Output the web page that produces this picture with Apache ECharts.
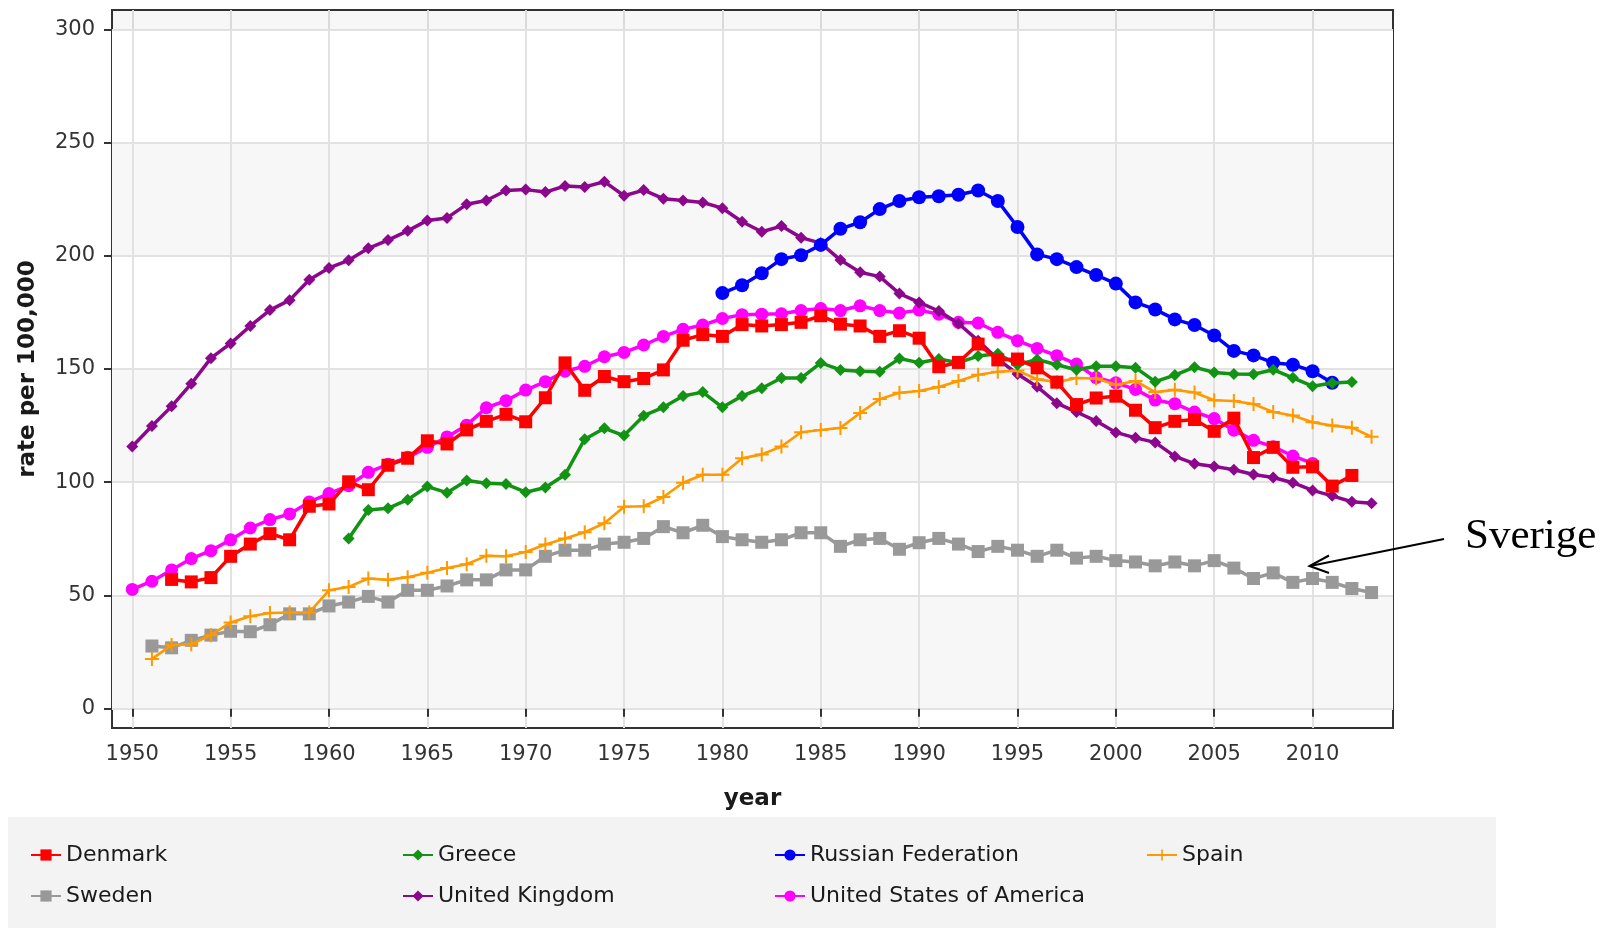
<!DOCTYPE html>
<html>
<head>
<meta charset="utf-8">
<title>rate per 100,000</title>
<script src="https://cdn.jsdelivr.net/npm/echarts@6/dist/echarts.min.js"></script>
<style>
  html, body { margin: 0; padding: 0; background: #fff; }
  #chart { width: 1607px; height: 928px; }
</style>
</head>
<body>
<div id="chart"></div>
<script>
// tick values on both axes
const xTicks = [1950, 1955, 1960, 1965, 1970, 1975, 1980, 1985, 1990, 1995, 2000, 2005, 2010];
const yTicks = [0, 50, 100, 150, 200, 250, 300];

// series values, one per year from the start year
const denmarkStart = 1952;
const denmark = [
  57.1, 56.0, 57.9, 67.3, 72.7, 77.3, 74.6, 89.4, 90.4,
  100.2, 96.7, 107.5, 110.6, 118.3, 116.9, 123.1, 126.9, 130.0, 126.7,
  137.3, 152.7, 140.6, 146.7, 144.4, 145.8, 149.6, 162.7, 165.2, 164.4,
  169.6, 169.0, 169.6, 170.6, 173.5, 169.8, 169.0, 164.4, 166.9, 163.6,
  151.0, 152.9, 161.0, 154.0, 154.4, 150.5, 144.2, 134.3, 137.2, 138.0,
  131.8, 124.1, 126.9, 127.7, 122.5, 128.3, 110.9, 115.4, 106.6, 106.8,
  98.3, 103.0
];

const greeceStart = 1961;
const greece = [
  75.2, 87.7, 88.5, 92.3, 98.1, 95.4, 100.8, 99.6, 99.2, 95.6,
  97.7, 103.3, 119.0, 123.8, 120.6, 129.4, 133.1, 138.1, 139.8, 133.1,
  138.1, 141.5, 146.0, 146.0, 152.7, 149.6, 149.0, 148.8, 154.6, 152.8,
  154.4, 152.8, 155.7, 156.7, 151.9, 154.2, 151.9, 149.7, 151.2, 151.2,
  150.6, 144.4, 147.3, 150.8, 148.5, 147.8, 147.7, 149.7, 146.1, 142.4,
  143.8, 144.3
];

const russiaStart = 1980;
const russia = [
  183.5, 187.0, 192.3, 198.5, 200.2, 204.8, 211.9, 214.8, 220.6, 224.2,
  225.8, 226.3, 226.9, 228.8, 224.2, 212.7, 200.6, 198.5, 195.0, 191.5,
  187.7, 179.4, 176.3, 171.9, 169.4, 164.8, 158.0, 156.0, 152.8, 151.9,
  149.0, 143.9
];

const spainStart = 1951;
const spain = [
  22.0, 28.1, 28.5, 32.5, 38.1, 40.8, 42.3, 42.5, 42.5, 52.3,
  53.8, 57.5, 56.9, 58.1, 60.0, 62.1, 63.8, 67.5, 67.3, 69.2,
  72.5, 75.2, 77.9, 81.9, 89.2, 89.4, 93.5, 99.8, 103.3, 103.3,
  110.6, 112.3, 115.8, 122.1, 123.1, 124.0, 130.6, 136.7, 139.5, 140.3,
  142.1, 144.7, 147.5, 148.8, 149.3, 145.5, 144.2, 146.0, 145.8, 143.0,
  144.7, 139.8, 140.8, 139.6, 136.2, 135.9, 134.5, 131.0, 129.5, 126.5,
  125.0, 124.1, 120.1
];

const swedenStart = 1951;
const sweden = [
  27.7, 26.9, 30.2, 32.5, 34.2, 34.0, 37.1, 41.9, 41.9, 45.4,
  47.1, 49.6, 47.1, 52.3, 52.3, 54.2, 56.9, 56.9, 61.3, 61.3,
  67.3, 70.0, 70.0, 72.7, 73.5, 75.2, 80.4, 77.7, 81.0, 76.0,
  74.6, 73.5, 74.6, 77.7, 77.7, 71.7, 74.6, 75.2, 70.4, 73.3,
  75.2, 72.7, 69.4, 71.7, 70.0, 67.3, 70.0, 66.5, 67.3, 65.4,
  64.8, 63.1, 64.8, 63.1, 65.4, 62.1, 57.5, 60.0, 55.8, 57.5,
  55.8, 53.1, 51.3
];

const ukStart = 1950;
const uk = [
  115.8, 124.8, 133.5, 143.5, 154.8, 161.3, 169.0, 176.0, 180.4, 189.4,
  194.6, 198.0, 203.3, 206.9, 211.0, 215.6, 216.7, 222.7, 224.4, 228.8,
  229.2, 228.1, 230.8, 230.4, 232.7, 226.5, 229.0, 225.2, 224.4, 223.5,
  221.0, 215.0, 210.6, 213.1, 208.0, 205.6, 198.1, 192.7, 190.8, 183.3,
  179.4, 175.6, 170.1, 162.5, 154.4, 147.8, 142.2, 134.9, 131.0, 127.0,
  122.0, 119.6, 117.6, 111.4, 108.2, 107.0, 105.5, 103.4, 102.1, 99.8,
  96.4, 94.0, 91.4, 90.7
];

const usaStart = 1950;
const usa = [
  52.7, 56.3, 61.3, 66.3, 69.8, 74.6, 79.8, 83.5, 86.0, 91.3,
  95.0, 98.5, 104.4, 107.9, 111.0, 115.4, 120.0, 125.2, 132.9, 136.0,
  140.7, 144.4, 149.0, 151.2, 155.4, 157.3, 160.6, 164.4, 167.5, 169.4,
  172.3, 174.0, 174.2, 174.4, 175.8, 176.7, 175.8, 177.9, 175.8, 174.7,
  176.0, 174.2, 170.6, 170.3, 166.2, 162.5, 159.1, 155.9, 152.2, 146.2,
  143.9, 141.0, 136.3, 134.7, 131.0, 128.1, 123.0, 118.5, 115.7, 111.6,
  108.3
];

// 年份 + 数值 -> [x, y]
function toPairs(start, values) {
  return values.map((v, i) => [start + i, v]);
}

const plusIcon = 'path://M6,0h2v6h6v2h-6v6h-2v-6h-6v-2h6z';
const FONT = 'DejaVu Sans';

const seriesDefs = [
  { name: 'Denmark', data: toPairs(denmarkStart, denmark), color: '#ff0000', symbol: 'rect', size: 13, width: 3.5 },
  { name: 'Greece', data: toPairs(greeceStart, greece), color: '#139313', symbol: 'diamond', size: 12, width: 3.5 },
  { name: 'Russian Federation', data: toPairs(russiaStart, russia), color: '#0000ff', symbol: 'circle', size: 14, width: 3.5 },
  { name: 'Spain', data: toPairs(spainStart, spain), color: '#ff9900', symbol: plusIcon, size: 14, width: 2.6 },
  { name: 'Sweden', data: toPairs(swedenStart, sweden), color: '#999999', symbol: 'rect', size: 13, width: 3.5 },
  { name: 'United Kingdom', data: toPairs(ukStart, uk), color: '#8b078b', symbol: 'diamond', size: 12, width: 3.5 },
  { name: 'United States of America', data: toPairs(usaStart, usa), color: '#ff00ff', symbol: 'circle', size: 13, width: 3.5 }
];

// 图例位置（两行四列）
const legendCols = [30, 402, 774, 1146];
const legendRows = [844, 885];

const chart = echarts.init(document.getElementById('chart'));

const option = {
  animation: false,
  backgroundColor: '#ffffff',
  textStyle: { fontFamily: FONT },
  grid: {
    left: 112,
    right: 214,
    top: 10,
    bottom: 200,
    show: true,
    backgroundColor: '#ffffff',
    borderColor: '#333333',
    borderWidth: 2
  },
  xAxis: {
    type: 'value',
    min: 1948.97,
    max: 2014.09,
    name: 'year',
    nameLocation: 'middle',
    nameGap: 60,
    nameTextStyle: { fontFamily: FONT, fontSize: 23, fontWeight: 'bold', color: '#1a1a1a' },
    axisLine: { show: false },
    axisTick: { show: true, customValues: xTicks, length: 8, lineStyle: { color: '#333', width: 2 } },
    axisLabel: {
      customValues: xTicks,
      formatter: v => String(v),
      margin: 16,
      fontFamily: FONT,
      fontSize: 21,
      color: '#333'
    },
    splitLine: { show: true, lineStyle: { color: '#e2e2e2', width: 2 } }
  },
  yAxis: {
    type: 'value',
    min: -8.5,
    max: 308.5,
    name: 'rate per 100,000',
    nameLocation: 'middle',
    nameGap: 72,
    nameTextStyle: { fontFamily: FONT, fontSize: 23, fontWeight: 'bold', color: '#1a1a1a' },
    axisLine: { show: false },
    axisTick: { show: true, customValues: yTicks, length: 8, lineStyle: { color: '#333', width: 2 } },
    axisLabel: {
      customValues: yTicks,
      formatter: v => String(v),
      margin: 17,
      fontFamily: FONT,
      fontSize: 21,
      color: '#333'
    },
    splitLine: { show: true, lineStyle: { color: '#e2e2e2', width: 2 } },
    splitArea: { show: true, areaStyle: { color: ['#f7f7f7', '#ffffff'] } }
  },
  legend: seriesDefs.map((s, i) => ({
    data: [s.name],
    left: legendCols[i % 4],
    top: legendRows[Math.floor(i / 4)],
    padding: 0,
    itemWidth: 30,
    itemHeight: 14,
    textStyle: { fontFamily: FONT, fontSize: 22, color: '#1a1a1a' }
  })),
  series: seriesDefs.map((s, i) => ({
    name: s.name,
    type: 'line',
    data: s.data,
    z: 10 - i,
    symbol: s.symbol,
    symbolSize: s.size,
    showSymbol: true,
    color: s.color,
    itemStyle: { color: s.color },
    lineStyle: { color: s.color, width: s.width },
    emphasis: { disabled: true },
    // 顶部 300 以上的灰色条
    markArea: i === 0 ? {
      silent: true,
      itemStyle: { color: 'rgba(0,0,0,0.03)' },
      data: [[{ yAxis: 300 }, { yAxis: 308.5 }]]
    } : undefined
  })),
  graphic: [
    {
      type: 'rect',
      z: -10,
      shape: { x: 8, y: 817, width: 1488, height: 111 },
      style: { fill: '#f3f3f3' }
    },
    {
      type: 'line',
      z: 100,
      shape: { x1: 1444, y1: 539, x2: 1310, y2: 566 },
      style: { stroke: '#000', lineWidth: 2 }
    },
    {
      type: 'polyline',
      z: 100,
      shape: { points: [[1329, 555.5], [1309.5, 566], [1329, 573]] },
      style: { stroke: '#000', lineWidth: 2, fill: null }
    },
    {
      type: 'text',
      z: 100,
      x: 1465,
      y: 537,
      style: {
        text: 'Sverige',
        font: '43px "Liberation Serif"',
        fill: '#000',
        verticalAlign: 'middle'
      }
    }
  ]
};

chart.setOption(option);

window.addEventListener('resize', () => {
  chart.resize();
});
</script>
</body>
</html>
